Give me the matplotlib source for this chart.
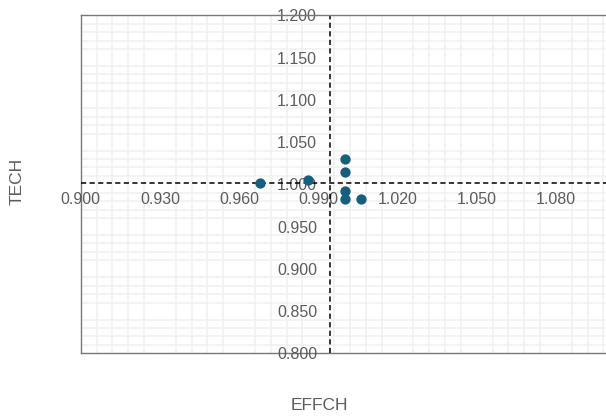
import numpy as np
import matplotlib
matplotlib.use('Agg')
import matplotlib.pyplot as plt

# data
effch = [0.968, 0.986, 1.000, 1.000, 1.000, 1.000, 1.006]
tech = [1.001, 1.005, 1.030, 1.014, 0.992, 0.983, 0.983]
x_ticks = [0.900, 0.930, 0.960, 0.990, 1.020, 1.050, 1.080]
y_ticks = [0.800, 0.850, 0.900, 0.950, 1.000, 1.050, 1.100, 1.150, 1.200]

plt.rcParams['font.family'] = ['Liberation Sans', 'DejaVu Sans']
txt = '#5c5c5c'
dot = '#155f7f'

mean_x = np.mean(effch)
mean_y = np.mean(tech)

W, H = 606, 417
fig = plt.figure(figsize=(W/100, H/100), dpi=100)
# plot box in pixels: left 80.7, right 608.7, top 15.3, bottom 353.3
ax = fig.add_axes([80.7/W, (H-353.3)/H, 528/W, 338/H])
ax.set_xlim(0.9, 1.1)
ax.set_ylim(0.8, 1.2)

#minor grid only, skipping major positions
for i in range(1, 34):
	if i % 5:
		ax.axvline(0.9 + i*0.006, color='#f0f0f0', lw=1.1, zorder=0)
for i in range(1, 40):
	if i % 5:
		ax.axhline(0.8 + i*0.01, color='#f0f0f0', lw=1.1, zorder=0)

#frame lines
ax.spines['right'].set_visible(False)
ax.spines['top'].set_color('#777777')
ax.spines['top'].set_linewidth(1.0)
ax.plot([0, 0], [0, 1], transform=ax.transAxes, color='#777777', lw=1.0, clip_on=False, zorder=1)
ax.plot([0, 1], [0, 0], transform=ax.transAxes, color='#777777', lw=1.0, clip_on=False, zorder=1)

#axes cross at the means, axis lines themselves hidden
ax.spines['left'].set_position(('data', mean_x))
ax.spines['bottom'].set_position(('data', mean_y))
ax.spines['left'].set_visible(False)
ax.spines['bottom'].set_visible(False)

ax.set_xticks(x_ticks)
ax.set_xticklabels(['%.3f' % v for v in x_ticks])
ax.set_yticks(y_ticks)
ax.set_yticklabels(['%.3f' % v for v in y_ticks])
ax.tick_params(axis='x', length=0, pad=6, labelsize=11.5, labelcolor=txt)
ax.tick_params(axis='y', length=0, pad=9, labelsize=11.5, labelcolor=txt)

ax.axvline(mean_x, color='black', lw=1.1, dashes=[3.4, 2.2], zorder=2)
ax.axhline(mean_y, color='black', lw=1.1, dashes=[3.4, 2.2], zorder=2)

ax.scatter(effch, tech, s=55, color=dot, zorder=3, linewidths=0)

fig.text(319/W, 1-406/H, 'EFFCH', ha='center', va='center', fontsize=12.5, color=txt)
fig.text(17/W, 1-181/H, 'TECH', ha='center', va='center', rotation=90, fontsize=12.5, color=txt)

fig.savefig('out.png', dpi=100)
